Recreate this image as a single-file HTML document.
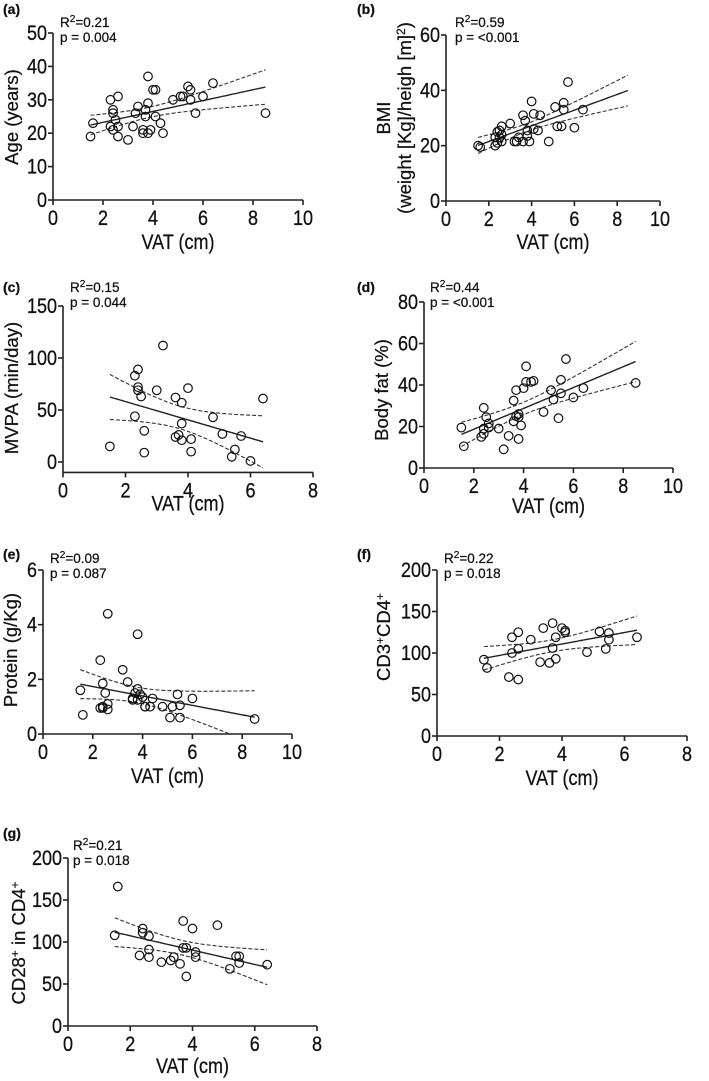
<!DOCTYPE html>
<html><head><meta charset="utf-8"><style>
html,body{margin:0;padding:0;background:#fff;}
svg{display:block;font-family:"Liberation Sans",Arial,sans-serif;}
svg text{stroke:#111;stroke-width:0.25px;}
</style></head><body>
<svg id="fig" width="709" height="1081" viewBox="0 0 709 1081" xmlns="http://www.w3.org/2000/svg"></svg>
<script>
// Panel (a) Age vs VAT
const aX=[1.5,1.6,2.3,2.3,2.4,2.4,2.4,2.5,2.6,2.6,2.6,3.0,3.2,3.3,3.4,3.6,3.6,3.7,3.7,3.8,3.8,3.8,3.9,4.0,4.1,4.1,4.3,4.4,4.8,5.1,5.2,5.4,5.5,5.5,5.7,6.0,6.4,8.5];
const aY=[19,23,30,22,27,26,21,24,31,22,19,18,22,26,28,21,20,27,25,37,29,20,21,33,33,25,23,20,30,31,31,34,33,30,26,31,35,26];
// Panel (b) BMI vs VAT
const bX=[1.5,1.6,2.3,2.3,2.4,2.4,2.5,2.5,2.6,2.6,2.6,3.0,3.2,3.3,3.4,3.6,3.6,3.7,3.8,3.8,3.9,4.0,4.1,4.1,4.3,4.4,4.8,5.1,5.2,5.4,5.5,5.5,5.7,6.0,6.4];
const bY=[20,19.5,23,20,25,21,25.5,23,27,24,21.5,28,21.5,21.5,23,31,21.5,29,25.5,23.5,21.5,36,31.5,26,25.5,31,21.5,34,27,27,35.5,33,43,26.5,33];
// Panel (c) MVPA vs VAT
const cX=[1.5,2.3,2.3,2.4,2.4,2.4,2.5,2.6,2.6,3.0,3.2,3.6,3.6,3.7,3.8,3.8,3.8,4.0,4.1,4.1,4.8,5.1,5.4,5.5,5.7,6.0,6.4];
const cY=[15,83,44,89,72,69,63,30,9,69,112,62,24,26,57,37,21,71,22,10,43,27,5,12,25,1,61];
// Panel (d) Body fat vs VAT
const dX=[1.5,1.6,2.3,2.4,2.4,2.4,2.5,2.6,2.6,3.0,3.2,3.4,3.6,3.6,3.7,3.7,3.8,3.8,3.8,3.9,4.0,4.1,4.1,4.3,4.4,4.8,5.1,5.2,5.4,5.5,5.5,5.7,6.0,6.4,8.5];
const dY=[19.5,10.5,15,29,19,16.5,24.5,21.5,19.5,19,9,15.5,32.5,22.5,37.5,25,26,24.5,14,20.5,38.5,49,41.5,41.5,42,27,37.5,33,24,42.5,36,52.5,34,38.5,41];
// Panel (e) Protein vs VAT
const eX=[1.5,1.6,2.3,2.3,2.4,2.4,2.4,2.5,2.6,2.6,2.6,3.2,3.4,3.6,3.6,3.7,3.8,3.8,3.8,3.9,4.0,4.1,4.1,4.3,4.4,4.8,5.1,5.2,5.4,5.5,5.5,6.0,8.5];
const eY=[1.6,0.7,2.7,0.95,1.85,1.0,0.95,1.5,4.4,1.1,0.9,2.35,1.9,1.3,1.25,1.5,3.65,1.65,1.25,1.45,1.35,1.0,1.0,1.0,1.3,1.0,0.6,1.0,1.45,1.05,0.6,1.3,0.55];
// Panel (f) CD3+CD4+ vs VAT
const fX=[1.5,1.6,2.3,2.4,2.4,2.6,2.6,2.6,3.0,3.3,3.4,3.6,3.7,3.7,3.8,3.8,4.0,4.1,4.1,4.8,5.2,5.4,5.5,5.5,6.4];
const fY=[92,82,71,119,100,125,105,68,116,89,130,88,136,106,119,93,130,127,125,101,126,105,124,116,119];
// Panel (g) CD28+ in CD4+ vs VAT
const gX=[1.5,1.6,2.3,2.4,2.4,2.6,2.6,2.6,3.0,3.3,3.4,3.6,3.7,3.7,3.8,3.8,4.0,4.1,4.1,4.8,5.2,5.4,5.5,5.5,6.4];
const gY=[108,166,84,116,111,107,91,82,76,78,82,74,125,93,93,59,116,88,82,120,68,83,83,75,73];
// Tick values
const xTicks10=[0,2,4,6,8,10];
const xTicks8=[0,2,4,6,8];
const aYTicks=[0,10,20,30,40,50];
const bYTicks=[0,20,40,60];
const cYTicks=[0,50,100,150];
const dYTicks=[0,20,40,60,80];
const eYTicks=[0,2,4,6];
const fYTicks=[0,50,100,150,200];
const gYTicks=[0,50,100,150,200];
const stats={a:["0.21","0.004"],b:["0.59","<0.001"],c:["0.15","0.044"],d:["0.44","<0.001"],e:["0.09","0.087"],f:["0.22","0.018"],g:["0.21","0.018"]};

const NS="http://www.w3.org/2000/svg";
const svg=document.getElementById('fig');
function mk(tag,attrs,parent){const e=document.createElementNS(NS,tag);for(const k in attrs)e.setAttribute(k,attrs[k]);(parent||svg).appendChild(e);return e;}

function panel(id,xs,ys,c){
  const g=mk('g',{});
  
  
  const sx=v=>c.x0+v/c.xmax*(c.x1-c.x0);
  const sy=v=>c.y0+v*(c.y1-c.y0)/c.ymax;
  const axMin=c.axMin||0;
  const axY=sy(axMin);
  const cp=mk('clipPath',{id:'clip'+id},g);
  mk('rect',{x:c.x0,y:sy(c.ymax)-5,width:c.x1-c.x0+5,height:axY-sy(c.ymax)+5},cp);
  const ya=mk('line',{x1:c.x0,y1:axY,x2:c.x0,y2:sy(c.ymax),stroke:'#222','stroke-width':1.6},g);
  
  
  const xa=mk('line',{x1:c.x0,y1:axY,x2:c.x1,y2:axY,stroke:'#222','stroke-width':1.6},g);
  
  
  c.xt.forEach(v=>{
    mk('line',{x1:sx(v),y1:axY,x2:sx(v),y2:axY+5,stroke:'#222','stroke-width':1.6},g);
    const t=mk('text',{transform:`translate(${sx(v)},${axY+25}) scale(1,1.2)`,'text-anchor':'middle','font-size':18,fill:'#111'},g);
    t.textContent=v;
    
    
  });
  c.yt.forEach(v=>{
    mk('line',{x1:c.x0-5,y1:sy(v),x2:c.x0,y2:sy(v),stroke:'#222','stroke-width':1.6},g);
    const t=mk('text',{transform:`translate(${c.x0-6},${sy(v)+7}) scale(1,1.2)`,'text-anchor':'end','font-size':18,fill:'#111'},g);
    t.textContent=v;
    
    
  });
  const n=xs.length;let mx=0,my=0;for(let i=0;i<n;i++){mx+=xs[i];my+=ys[i];}mx/=n;my/=n;
  let sxx=0,sxy=0;for(let i=0;i<n;i++){sxx+=(xs[i]-mx)**2;sxy+=(xs[i]-mx)*(ys[i]-my);}
  const b=sxy/sxx,a=my-b*mx;let sse=0;for(let i=0;i<n;i++)sse+=(ys[i]-a-b*xs[i])**2;
  const s=Math.sqrt(sse/(n-2)),tv=1.96+2.4/(n-2);
  const xmin=Math.min(...xs),xmaxd=c.lineEnd||Math.max(...xs);
  let pm='',pu='',pl='';
  for(let k=0;k<=60;k++){const x=xmin+(xmaxd-xmin)*k/60;const yh=a+b*x;const se=s*Math.sqrt(1/n+(x-mx)**2/sxx);
    const cmd=k?'L':'M';pm+=cmd+sx(x).toFixed(1)+','+sy(yh).toFixed(1);pu+=cmd+sx(x).toFixed(1)+','+sy(yh+tv*se).toFixed(1);pl+=cmd+sx(x).toFixed(1)+','+sy(yh-tv*se).toFixed(1);}
  const cg=mk('g',{'clip-path':`url(#clip${id})`},g);
  const l1=mk('path',{d:pm,fill:'none',stroke:'#222','stroke-width':1.4},cg);
  
  
  const l2=mk('path',{d:pu,fill:'none',stroke:'#333','stroke-width':1.1,'stroke-dasharray':'4 2'},cg);
  
  
  const l3=mk('path',{d:pl,fill:'none',stroke:'#333','stroke-width':1.1,'stroke-dasharray':'4 2'},cg);
  
  
  for(let i=0;i<n;i++){
    const p=mk('circle',{cx:sx(xs[i]),cy:sy(ys[i]),r:4.3,fill:'none',stroke:'#111','stroke-width':1.2},g);
    
    
  }
  const pl_=mk('text',{x:c.lx,y:c.ly,'font-size':14,'font-weight':'bold',fill:'#111'},g);
  pl_.textContent='('+id+')';
  
  
  const r2=mk('text',{x:c.ax,y:c.ay,'font-size':13.5,fill:'#111'},g);
  r2.innerHTML='R<tspan dy="-5" font-size="10">2</tspan><tspan dy="5">='+stats[id][0]+'</tspan>';
  
  
  const pv=mk('text',{x:c.ax,y:c.ay+15,'font-size':13.5,fill:'#111'},g);
  pv.textContent='p = '+stats[id][1];
  
  
  const xt=mk('text',{transform:`translate(${(c.x0+c.x1)/2},${axY+c.xto}) scale(1,1.2)`,'text-anchor':'middle','font-size':18,fill:'#111'},g);
  xt.textContent='VAT (cm)';
  
  
  c.yTitles.forEach(yt=>{
    const t=mk('text',{transform:`translate(${yt[0]},${c.ytc}) rotate(-90)`,'text-anchor':'middle','font-size':18.5,fill:'#111'},g);
    t.innerHTML=yt[1];
    
    
  });
}
const sup=s=>`<tspan dy="-6" font-size="12">${s}</tspan><tspan dy="6">`;
panel('a',aX,aY,{x0:53,x1:303,y0:200,y1:33,xmax:10,ymax:50,xt:xTicks10,yt:aYTicks,lx:3,ly:14,ax:60,ay:27,xto:49,ytc:117,yTitles:[[18,'Age (years)']]});
panel('b',bX,bY,{x0:446,x1:660,y0:201,y1:35,xmax:10,ymax:60,lineEnd:8.5,xt:xTicks10,yt:bYTicks,lx:357,ly:14,ax:455,ay:27,xto:48,ytc:118,yTitles:[[390,'BMI'],[411,'(weight [Kg]/heigh [m]<tspan dy="-6" font-size="12">2</tspan><tspan dy="6">)</tspan>']]});
panel('c',cX,cY,{x0:63,x1:313,y0:462,y1:306,xmax:8,ymax:150,axMin:-10,xt:xTicks8,yt:cYTicks,lx:3,ly:292,ax:70,ay:292,xto:38,ytc:388,yTitles:[[18,'MVPA (min/day)']]});
panel('d',dX,dY,{x0:424,x1:673,y0:468,y1:302,xmax:10,ymax:80,xt:xTicks10,yt:dYTicks,lx:357,ly:292,ax:430,ay:292,xto:45,ytc:390,yTitles:[[388,'Body fat (%)']]});
panel('e',eX,eY,{x0:43,x1:292,y0:734,y1:570,xmax:10,ymax:6,xt:xTicks10,yt:eYTicks,lx:3,ly:559,ax:50,ay:563,xto:49,ytc:650,yTitles:[[17,'Protein (g/Kg)']]});
panel('f',fX,fY,{x0:437,x1:687,y0:736,y1:570,xmax:8,ymax:200,xt:xTicks8,yt:fYTicks,lx:357,ly:559,ax:444,ay:563,xto:49,ytc:637,yTitles:[[390,'CD3'+sup('+')+'CD4</tspan><tspan dy="-6" font-size="12">+</tspan>']]});
panel('g',gX,gY,{x0:68,x1:317,y0:1026,y1:858,xmax:8,ymax:200,xt:xTicks8,yt:gYTicks,lx:3,ly:838,ax:73,ay:850,xto:47,ytc:943,yTitles:[[25,'CD28'+sup('+')+' in CD4</tspan><tspan dy="-6" font-size="12">+</tspan>']]});
</script>
</body></html>
